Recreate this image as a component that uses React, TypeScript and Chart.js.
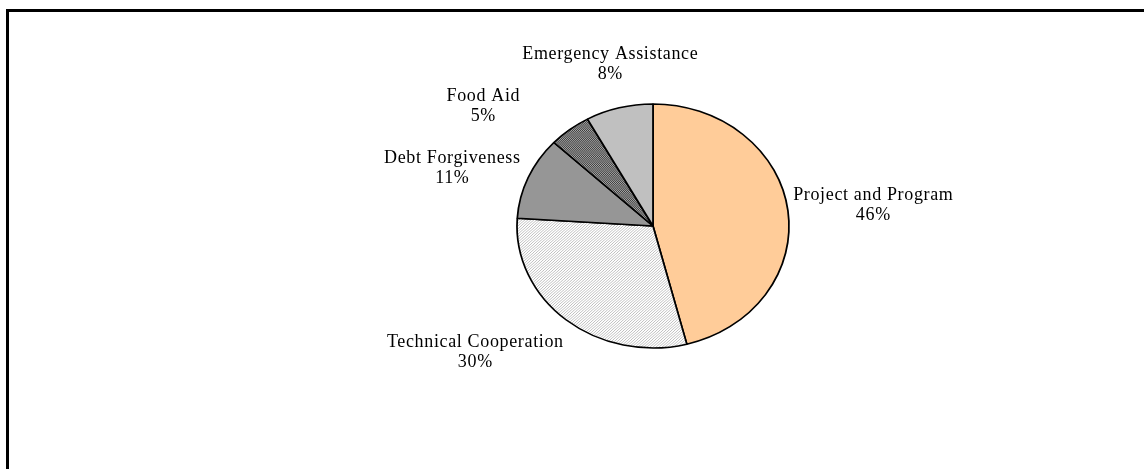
import React, { useEffect, useRef } from "react";
import { Chart, registerables } from "chart.js";

Chart.register(...registerables);

// Aid categories and their shares (%), drawn clockwise from 12 o'clock
const categories = [
  "Project and Program",
  "Technical Cooperation",
  "Debt Forgiveness",
  "Food Aid",
  "Emergency Assistance",
];
const shares = [46, 30, 11, 5, 8];

// Where each two-line label sits: centre x and first-line baseline y
const labelCenterX = [873, 475, 452, 483, 610];
const labelBaselineY = [200, 347, 163, 101, 59];

const WIDTH = 1144;
const HEIGHT = 469;
const PIE_CX = 653;
const PIE_CY = 226;
const PIE_R = 136;
const PIE_SQUASH = 122 / 136; // pie is drawn as a slightly flattened ellipse
const LINE_GAP = 20;
const FONT = '18px "Liberation Serif", "Times New Roman", serif';
const LETTER_SPACING = 0.65;

function makeDiagonalPattern(): CanvasPattern | string {
  const c = document.createElement("canvas");
  c.width = 3;
  c.height = 3;
  const g = c.getContext("2d");
  if (!g) return "#eeeeee";
  g.fillStyle = "#ffffff";
  g.fillRect(0, 0, 3, 3);
  g.fillStyle = "#bdbdbd";
  // upward diagonal: pixels on the anti-diagonal
  g.fillRect(2, 0, 1, 1);
  g.fillRect(1, 1, 1, 1);
  g.fillRect(0, 2, 1, 1);
  return g.createPattern(c, "repeat") || "#eeeeee";
}

function makeCheckerPattern(): CanvasPattern | string {
  const c = document.createElement("canvas");
  c.width = 2;
  c.height = 2;
  const g = c.getContext("2d");
  if (!g) return "#707070";
  g.fillStyle = "#3c3c3c";
  g.fillRect(0, 0, 2, 2);
  g.fillStyle = "#a8a8a8";
  g.fillRect(0, 0, 1, 1);
  g.fillRect(1, 1, 1, 1);
  return g.createPattern(c, "repeat") || "#707070";
}

export default function App() {
  const canvasRef = useRef<HTMLCanvasElement | null>(null);

  useEffect(() => {
    const canvas = canvasRef.current;
    if (!canvas) return;

    const squashPlugin = {
      id: "squashPie",
      beforeDatasetsDraw(chart: any) {
        const ctx = chart.ctx;
        ctx.save();
        ctx.translate(PIE_CX, PIE_CY);
        ctx.scale(1, PIE_SQUASH);
        ctx.translate(-PIE_CX, -PIE_CY);
      },
      afterDatasetsDraw(chart: any) {
        chart.ctx.restore();
      },
    };

    const labelPlugin = {
      id: "sliceLabels",
      afterDraw(chart: any) {
        const ctx = chart.ctx;
        const data = chart.data.datasets[0].data as number[];
        ctx.save();
        ctx.font = FONT;
        (ctx as any).letterSpacing = `${LETTER_SPACING}px`;
        ctx.fillStyle = "#000000";
        ctx.textAlign = "center";
        ctx.textBaseline = "alphabetic";
        (chart.data.labels as string[]).forEach((name, i) => {
          const x = labelCenterX[i];
          const y = labelBaselineY[i];
          ctx.fillText(name, x + LETTER_SPACING / 2, y);
          ctx.fillText(`${data[i]}%`, x + LETTER_SPACING / 2, y + LINE_GAP);
        });
        ctx.restore();
      },
    };

    const fills = [
      "#FFCC99",
      makeDiagonalPattern(),
      "#969696",
      makeCheckerPattern(),
      "#C0C0C0",
    ];

    const chart = new Chart(canvas, {
      type: "pie",
      data: {
        labels: categories,
        datasets: [
          {
            data: shares,
            backgroundColor: fills as any,
            borderColor: "#000000",
            borderWidth: 1.75,
            borderAlign: "center",
          },
        ],
      },
      options: {
        responsive: false,
        animation: false,
        devicePixelRatio: 1,
        radius: PIE_R,
        rotation: 0,
        layout: {
          padding: {
            left: PIE_CX - PIE_R - 10,
            right: WIDTH - (PIE_CX + PIE_R + 10),
            top: PIE_CY - PIE_R - 10,
            bottom: HEIGHT - (PIE_CY + PIE_R + 10),
          },
        },
        plugins: {
          legend: { display: false },
          tooltip: { enabled: false },
          title: { display: false },
        },
      } as any,
      plugins: [squashPlugin, labelPlugin],
    });

    return () => chart.destroy();
  }, []);

  return (
    <div
      style={{
        position: "fixed",
        left: 0,
        top: 0,
        width: WIDTH,
        height: HEIGHT,
        overflow: "hidden",
        background: "#ffffff",
      }}
    >
      <canvas
        ref={canvasRef}
        width={WIDTH}
        height={HEIGHT}
        style={{ display: "block", width: WIDTH, height: HEIGHT }}
      />
      <div
        style={{
          position: "absolute",
          left: 6,
          top: 9,
          width: WIDTH + 20,
          height: HEIGHT + 20,
          borderTop: "3px solid #000",
          borderLeft: "3px solid #000",
          boxSizing: "border-box",
        }}
      />
    </div>
  );
}
